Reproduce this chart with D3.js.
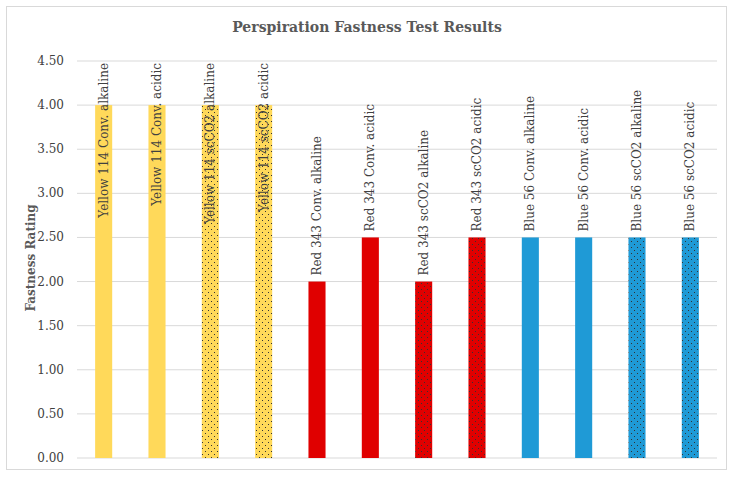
<!DOCTYPE html>
<meta charset="utf-8">
<style>
body { margin:0; background:#fff; }
svg text { font-family: "DejaVu Serif", "Liberation Serif", serif; fill:#404040; }
</style>
<body>
<script src="https://cdn.jsdelivr.net/npm/d3@7"></script>
<script>
var labels = ["Yellow 114 Conv. alkaline","Yellow 114 Conv. acidic","Yellow 114 scCO2 alkaline","Yellow 114 scCO2 acidic",
  "Red 343 Conv. alkaline","Red 343 Conv. acidic","Red 343 scCO2 alkaline","Red 343 scCO2 acidic",
  "Blue 56 Conv. alkaline","Blue 56 Conv. acidic","Blue 56 scCO2 alkaline","Blue 56 scCO2 acidic"];
var values = [4,4,4,4,2,2.5,2,2.5,2.5,2.5,2.5,2.5];
var colors = ["#ffd95a","#ffd95a","#ffd95a","#ffd95a","#e00000","#e00000","#e00000","#e00000","#1f9ad6","#1f9ad6","#1f9ad6","#1f9ad6"];
var dotted = [false,false,true,true,false,false,true,true,false,false,true,true];
var ticks = [0,0.5,1,1.5,2,2.5,3,3.5,4,4.5];

var width=733, height=477;
var svg = d3.select("body").append("svg").attr("width",width).attr("height",height);
svg.append("rect").attr("x",6.5).attr("y",6.5).attr("width",720).attr("height",463)
  .attr("fill","#fff").attr("stroke","#d9d9d9");

var defs = svg.append("defs");
colors.forEach(function(c,i){
  if(!dotted[i]) return;
  var p = defs.append("pattern").attr("id","dot"+i).attr("patternUnits","userSpaceOnUse").attr("width",6).attr("height",6);
  p.append("rect").attr("width",6).attr("height",6).attr("fill",c);
  p.append("rect").attr("x",1).attr("y",1).attr("width",1).attr("height",1).attr("fill","#333");
  p.append("rect").attr("x",4).attr("y",4).attr("width",1).attr("height",1).attr("fill","#333");
});

var x = d3.scaleBand().domain(labels).range([77,717]).paddingInner(0.68).paddingOuter(0.34);
var y = d3.scaleLinear().domain([0,4.5]).range([458,61]);

svg.append("g").selectAll("line").data(ticks).join("line")
  .attr("x1",77).attr("x2",717).attr("y1",d=>y(d)).attr("y2",d=>y(d))
  .attr("stroke","#d9d9d9").attr("stroke-width",1);
svg.append("g").selectAll("text").data(ticks).join("text")
  .attr("x",64).attr("y",d=>y(d)+4).attr("text-anchor","end").style("font-size","12px")
  .text(d=>d3.format(".2f")(d));

svg.append("g").selectAll("rect").data(values).join("rect")
  .attr("x",(d,i)=>x(labels[i])).attr("width",x.bandwidth())
  .attr("y",d=>y(d)).attr("height",d=>y(0)-y(d))
  .attr("fill",(d,i)=>dotted[i] ? "url(#dot"+i+")" : colors[i]);

var lab = svg.append("g").selectAll("text").data(values).join("text")
  .style("font-size","12px").attr("text-anchor","start")
  .text((d,i)=>labels[i]);
lab.each(function(d,i){
  var len = this.getComputedTextLength();
  var start = Math.max(y(d) - 6, 63 + len);
  var cx = x(labels[i]) + x.bandwidth()/2 + 4;
  d3.select(this).attr("transform","translate("+cx+","+start+") rotate(-90)");
});

svg.append("text").attr("x",367).attr("y",32).attr("text-anchor","middle")
  .style("font-size","14px").style("font-weight","bold").style("fill","#595959")
  .text("Perspiration Fastness Test Results");
svg.append("text").attr("transform","translate(35,258) rotate(-90)").attr("text-anchor","middle")
  .style("font-size","12px").style("font-weight","bold").style("fill","#595959")
  .text("Fastness Rating");
</script>
